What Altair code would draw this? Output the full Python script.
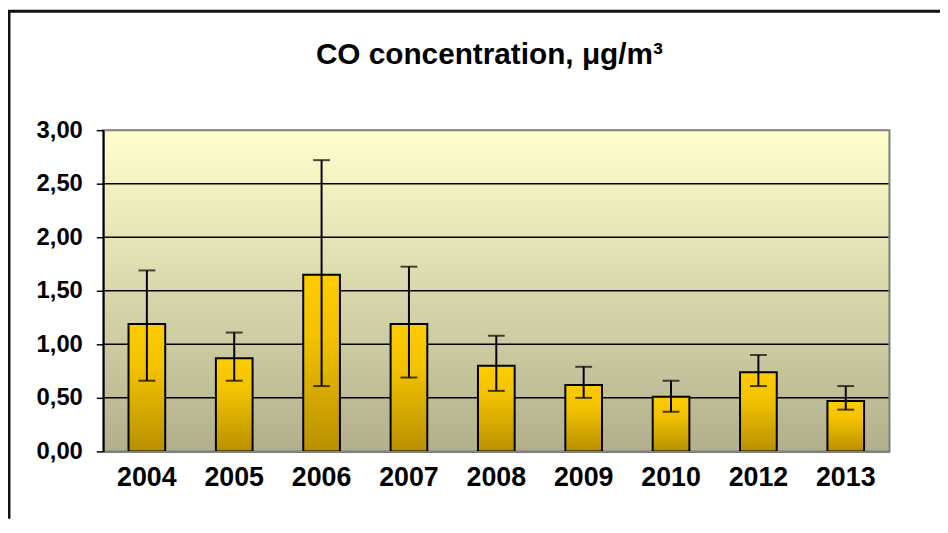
import altair as alt
import pandas as pd

years = ["2004", "2005", "2006", "2007", "2008", "2009", "2010", "2012", "2013"]
means = [1.19, 0.87, 1.65, 1.19, 0.80, 0.62, 0.51, 0.74, 0.47]
upper = [1.69, 1.11, 2.72, 1.725, 1.08, 0.79, 0.66, 0.90, 0.61]
lower = [0.66, 0.66, 0.61, 0.69, 0.565, 0.50, 0.37, 0.61, 0.39]
y_ticks = [0, 0.5, 1.0, 1.5, 2.0, 2.5, 3.0]
grid_values = [0.5, 1.0, 1.5, 2.0, 2.5]
title_text = "CO concentration, μg/m³"

W, H = 793, 324
PAD_L, PAD_T, PAD_R, PAD_B = 96, 121, 51, 68
FONT = "Liberation Sans"

df = pd.DataFrame({"year": years, "mean": means, "hi": upper, "lo": lower})

xscale = alt.Scale(domain=years, paddingInner=0.58, paddingOuter=0.29)
yscale = alt.Scale(domain=[0, 3], nice=False)

x_axis = alt.Axis(
    labelFont=FONT, labelFontSize=27, labelFontWeight="bold",
    labelColor="black", labelAngle=0, labelPadding=13,
    ticks=False, tickSize=0, domainColor="#808080", domainWidth=2,
    grid=False, zindex=1, title=None,
)
y_axis = alt.Axis(
    values=y_ticks,
    labelExpr="replace(format(datum.value, '.2f'), '.', ',')",
    labelFont=FONT, labelFontSize=24, labelFontWeight="bold",
    labelColor="black", labelPadding=14,
    tickColor="black", tickSize=7, tickWidth=1.5,
    domainColor="black", domainWidth=2, grid=False, zindex=1, title=None,
)

bg_grad = alt.LinearGradient(
    gradient="linear",
    stops=[alt.GradientStop(offset=0, color="#FFFFCC"),
           alt.GradientStop(offset=1, color="#B2B08C")],
    x1=0, x2=0, y1=0, y2=1,
)
bar_grad = alt.LinearGradient(
    gradient="linear",
    stops=[alt.GradientStop(offset=0, color="#FFCC00"),
           alt.GradientStop(offset=0.35, color="#F2C200"),
           alt.GradientStop(offset=1, color="#B89000")],
    x1=0, x2=0, y1=0, y2=1,
)

one = alt.Data(values=[{}])

bg = alt.Chart(one).mark_rect(fill=bg_grad).encode(
    x=alt.value(0), x2=alt.value(W), y=alt.value(0), y2=alt.value(H)
)

grid = alt.Chart(pd.DataFrame({"g": grid_values})).mark_rule(
    color="black", strokeWidth=1.5
).encode(y=alt.Y("g:Q", scale=yscale, axis=y_axis))

border = alt.Chart(one).mark_rect(
    filled=False, stroke="#808080", strokeWidth=2
).encode(x=alt.value(0), x2=alt.value(W), y=alt.value(0), y2=alt.value(H))

frame_left = alt.Chart(one).mark_rule(color="#111111", strokeWidth=3).encode(
    x=alt.value(-95), y=alt.value(-120), y2=alt.value(H + PAD_B)
)
frame_top = alt.Chart(one).mark_rule(color="#111111", strokeWidth=3).encode(
    x=alt.value(-96), x2=alt.value(W + PAD_R), y=alt.value(-120)
)

base = alt.Chart(df)
X = alt.X("year:N", sort=years, scale=xscale, axis=x_axis)

bars = base.mark_bar(fill=bar_grad, stroke="black", strokeWidth=2).encode(
    x=X,
    y=alt.Y("mean:Q", scale=yscale, axis=y_axis),
)

err = base.mark_rule(color="black", strokeWidth=2).encode(
    x=X,
    y=alt.Y("lo:Q", scale=yscale, axis=y_axis),
    y2="hi:Q",
)
cap_hi = base.mark_tick(color="black", thickness=2, size=17).encode(
    x=X,
    y=alt.Y("hi:Q", scale=yscale, axis=y_axis),
)
cap_lo = base.mark_tick(color="black", thickness=2, size=17).encode(
    x=X,
    y=alt.Y("lo:Q", scale=yscale, axis=y_axis),
)

chart = alt.layer(
    bg, grid, border, bars, err, cap_hi, cap_lo, frame_left, frame_top
).properties(
    width=W,
    height=H,
    autosize=alt.AutoSizeParams(type="none"),
    padding={"left": PAD_L, "top": PAD_T, "right": PAD_R, "bottom": PAD_B},
    title=alt.TitleParams(
        text=title_text, font=FONT, fontSize=30, fontWeight="bold",
        color="black", anchor="middle", dx=-7, offset=-61,
    ),
).configure_view(stroke=None).configure(background="white")

chart.save("out.html", embed_options={"renderer": "svg", "actions": False})
